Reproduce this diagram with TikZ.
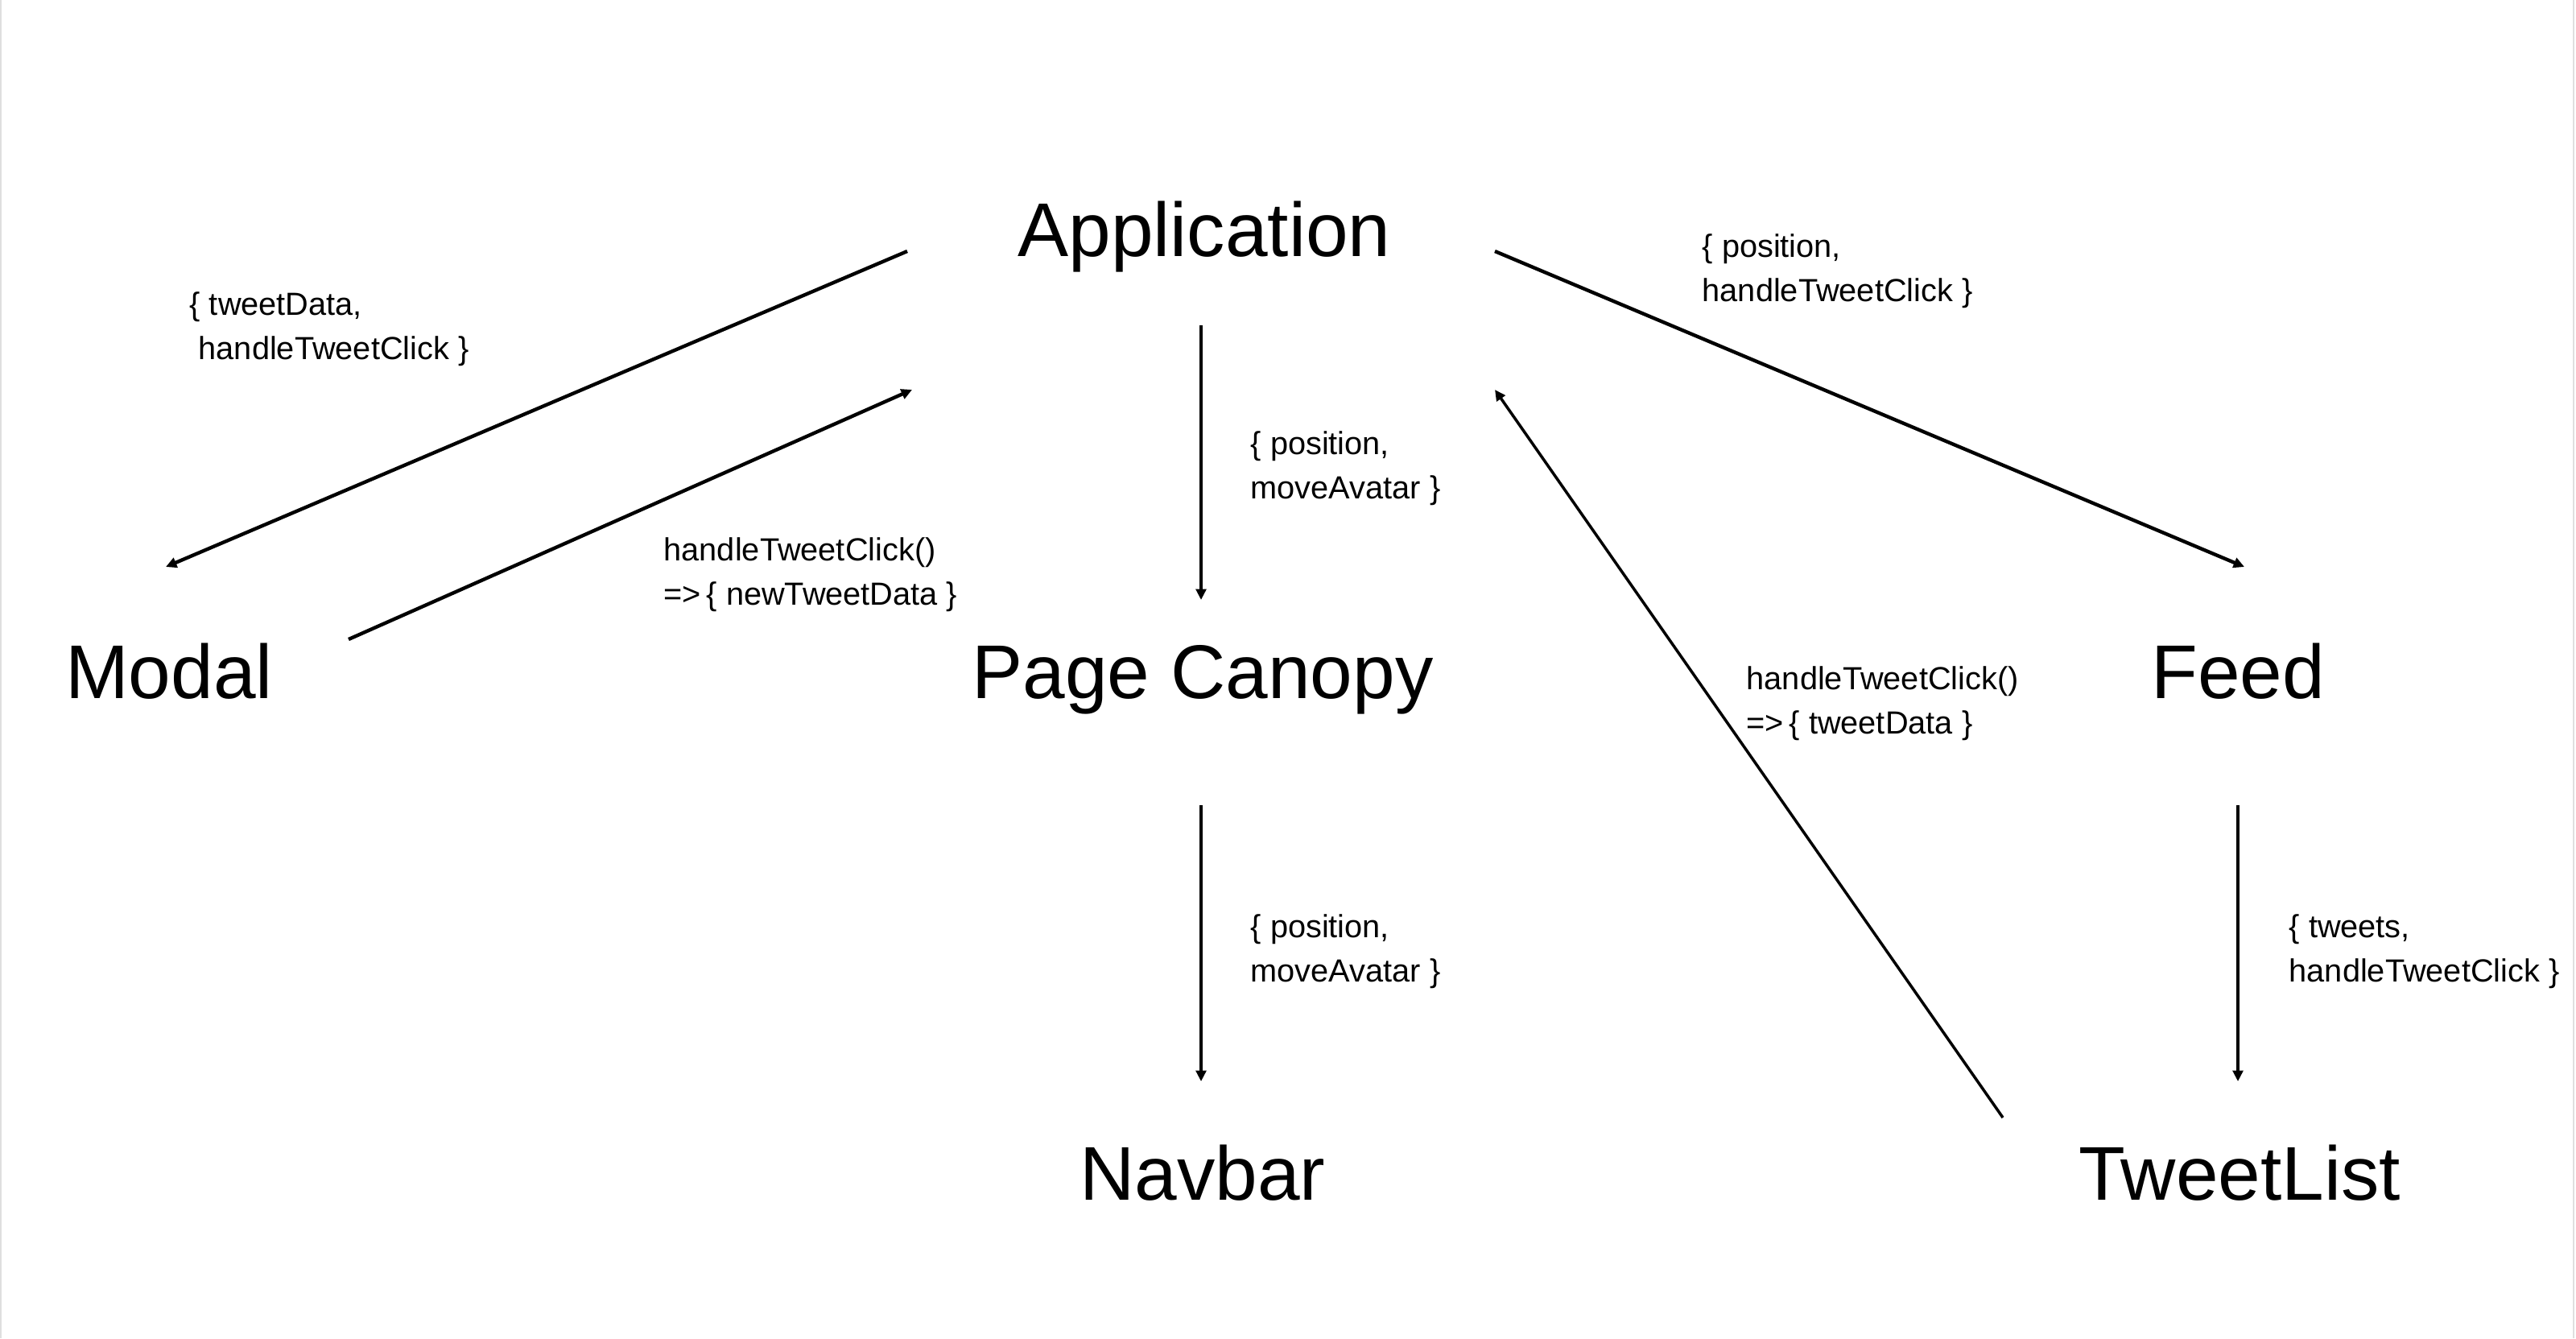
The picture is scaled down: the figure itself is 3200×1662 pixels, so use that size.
\documentclass[tikz,border=0pt]{standalone}
\usepackage{fontspec}
\setmainfont{Liberation Sans}
\usetikzlibrary{arrows.meta}
\begin{document}
\begin{tikzpicture}[x=0.01cm,y=-0.01cm,
  big/.style={inner sep=0pt,anchor=base,font=\fontsize{26.9pt}{32pt}\selectfont},
  lbl/.style={inner sep=0pt,anchor=west,align=left,font=\fontsize{11.3pt}{15.6pt}\selectfont},
  arr/.style={line width=1.25pt,-{Triangle[length=3.8pt,width=3.6pt]}},
  arrthin/.style={line width=1pt,-{Triangle[length=3.8pt,width=3.6pt]}}]
\useasboundingbox (0,0) rectangle (3200,1662);
\draw[gray!25,line width=0.6pt] (1,0) -- (1,1662);
\draw[gray!25,line width=0.6pt] (3197,0) -- (3197,1662);
% component nodes
\node[big] (app) at (1496,318) {Application};
\node[big] (modal) at (210,867) {Modal};
\node[big] (canopy) at (1494,867) {Page Canopy};
\node[big] (feed) at (2780,867) {Feed};
\node[big] (navbar) at (1494,1490) {Navbar};
\node[big] (tweetlist) at (2782,1490) {TweetList};
% connector end points
\coordinate (appToModalA) at (1127,312);
\coordinate (appToModalB) at (206,704);
\coordinate (modalToAppA) at (433,794);
\coordinate (modalToAppB) at (1133,484);
\coordinate (appToCanopyA) at (1492,404);
\coordinate (appToCanopyB) at (1492,745);
\coordinate (appToFeedA) at (1857,312);
\coordinate (appToFeedB) at (2788,704);
\coordinate (listToAppA) at (2488,1388);
\coordinate (listToAppB) at (1857,484);
\coordinate (canopyToNavA) at (1492,1000);
\coordinate (canopyToNavB) at (1492,1343);
\coordinate (feedToListA) at (2780,1000);
\coordinate (feedToListB) at (2780,1343);
% connectors
\draw[arr] (appToModalA) -- (appToModalB);
\draw[arr] (modalToAppA) -- (modalToAppB);
\draw[arr] (appToCanopyA) -- (appToCanopyB);
\draw[arr] (appToFeedA) -- (appToFeedB);
\draw[arrthin] (listToAppA) -- (listToAppB);
\draw[arrthin] (canopyToNavA) -- (canopyToNavB);
\draw[arrthin] (feedToListA) -- (feedToListB);
% labels
\node[lbl] (l1) at (235,409) {\{ tweetData,\\\ handleTweetClick \}};
\node[lbl] (l2) at (2114,337) {\{ position,\\handleTweetClick \}};
\node[lbl] (l3) at (1553,582) {\{ position,\\moveAvatar \}};
\node[lbl] (l4) at (824,714) {handleTweetClick()\\=>\,\{ newTweetData \}};
\node[lbl] (l5) at (2169,874) {handleTweetClick()\\=>\,\{ tweetData \}};
\node[lbl] (l6) at (1553,1182) {\{ position,\\moveAvatar \}};
\node[lbl] (l7) at (2843,1182) {\{ tweets,\\handleTweetClick \}};
\end{tikzpicture}
\end{document}
